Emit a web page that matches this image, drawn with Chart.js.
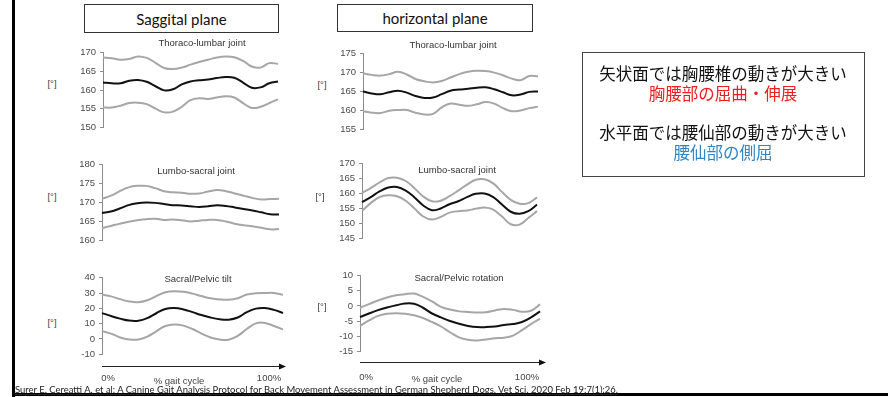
<!DOCTYPE html>
<html>
<head>
<meta charset="utf-8">
<script src="https://cdn.jsdelivr.net/npm/chart.js@4.4.1/dist/chart.umd.min.js"></script>
<style>
	body { margin:0; width:888px; height:397px; background:#fff; position:relative; overflow:hidden; font-family:'Liberation Sans', Arial, sans-serif; }
	.t { position:absolute; white-space:nowrap; transform:translate(-50%,-50%); line-height:1; }
	.lbl { font-size:9.5px; color:#444; }
	.plane { position:absolute; border:1px solid #333; box-sizing:border-box; font-family:Lato, sans-serif; font-size:15px; color:#111; display:flex; align-items:center; justify-content:center; }
	.note { position:absolute; left:582px; top:52px; width:283px; height:125px; border:1px solid #444; box-sizing:border-box; }
	.jp { font-family:'Noto Sans CJK JP', sans-serif; font-size:16.5px; color:#111; }
	canvas { position:absolute; }
</style>
</head>
<body>
<script>
// x = % gait cycle
const gait = [0,5,10,15,20,25,30,35,40,45,50,55,60,65,70,75,80,85,90,95,100]

// saggital plane, thoraco-lumbar joint
const sagTLUpper = [168.7,168.5,168.1,168.3,169.0,168.6,167.3,165.9,165.6,166.0,166.8,167.5,168.1,168.7,169.0,168.8,167.8,166.3,166.0,167.2,167.0]
const sagTLMean  = [162.0,161.8,161.8,162.5,162.7,162.2,161.0,159.9,160.2,161.5,162.3,162.6,162.8,163.2,163.5,163.3,162.0,160.6,160.7,161.8,162.3]
const sagTLLower = [155.3,155.3,155.8,156.5,156.6,156.2,155.0,154.0,154.2,155.5,157.3,157.8,157.6,158.0,158.3,158.0,156.5,155.2,155.5,156.5,157.5]

// horizontal plane, thoraco-lumbar joint
const horTLUpper = [169.8,169.4,169.2,169.6,170.2,169.5,168.3,167.7,167.4,167.8,168.7,169.6,170.2,170.5,170.4,170.0,169.3,168.4,168.0,169.1,169.0]
const horTLMean  = [165.0,164.5,164.3,164.8,165.2,164.7,163.8,163.3,163.4,164.3,165.2,165.5,165.7,166.0,166.1,165.6,164.8,164.0,164.2,164.9,165.0]
const horTLLower = [159.8,159.4,159.3,159.9,160.1,160.1,159.4,158.9,159.1,160.8,161.8,161.5,161.2,161.6,162.2,161.8,160.6,159.8,160.0,160.6,161.0]

// saggital plane, lumbo-sacral joint
const sagLSUpper = [171.0,171.8,173.0,174.0,174.4,174.4,173.8,173.0,172.7,172.6,172.3,172.4,172.9,173.3,173.0,172.4,171.8,171.2,170.8,170.9,171.0]
const sagLSMean  = [167.2,167.6,168.4,169.3,169.8,170.0,169.9,169.6,169.3,169.2,169.0,168.8,169.0,169.3,169.1,168.7,168.3,167.9,167.4,166.9,166.8]
const sagLSLower = [163.2,163.8,164.4,164.9,165.3,165.6,165.7,165.4,165.5,165.3,165.0,165.2,165.4,165.4,165.0,164.4,164.0,163.7,163.3,162.9,163.0]

// horizontal plane, lumbo-sacral joint
const horLSUpper = [160.2,161.8,163.7,165.2,165.3,164.2,161.8,159.0,157.4,157.6,159.1,161.0,163.0,164.6,164.8,163.4,160.5,157.9,156.6,156.8,158.7]
const horLSMean  = [157.1,158.8,160.7,162.0,162.2,161.0,158.7,156.0,154.4,155.0,156.4,157.4,158.8,159.9,160.0,158.8,156.3,153.9,153.2,154.1,156.3]
const horLSLower = [154.2,156.8,158.8,159.4,159.1,157.6,155.0,152.3,151.3,152.2,153.6,154.1,154.3,154.9,155.3,154.6,152.3,149.7,149.6,151.8,154.1]

// saggital plane, sacral/pelvic tilt
const tiltUpper = [29.0,27.8,26.0,24.5,24.0,25.3,28.0,30.5,31.2,30.8,29.6,28.0,26.6,25.8,25.6,26.6,29.0,29.8,30.0,30.0,28.8]
const tiltMean  = [16.9,15.0,13.3,12.0,11.9,13.6,16.8,19.6,20.2,19.3,17.5,15.6,14.0,12.9,12.6,14.0,17.5,19.8,20.2,19.0,17.0]
const tiltLower = [5.2,3.5,1.0,-0.3,-0.4,1.5,5.0,8.5,9.5,8.7,6.5,3.5,1.0,-0.4,-0.5,2.0,6.5,10.2,10.5,8.5,6.2]

// horizontal plane, sacral/pelvic rotation
const rotUpper = [-0.6,0.6,1.8,2.8,3.5,3.9,4.1,3.0,1.5,-0.3,-1.2,-1.8,-2.0,-2.2,-2.1,-1.5,-1.0,-1.3,-1.9,-1.6,0.5]
const rotMean  = [-3.7,-2.5,-1.4,-0.5,0.2,0.8,0.7,-0.6,-2.5,-3.8,-5.0,-5.9,-6.6,-7.0,-7.0,-6.8,-6.3,-6.0,-5.3,-3.8,-1.8]
const rotLower = [-6.6,-4.8,-3.3,-2.6,-2.4,-2.6,-3.1,-4.0,-5.3,-6.8,-8.7,-10.4,-11.2,-11.4,-11.1,-10.7,-10.5,-9.8,-8.0,-6.0,-4.2]

const el = o => {
	const a = document.createElement(o.a)
	if (o.c) a.textContent = o.c
	if (o.d) for (const k in o.d) a.setAttribute(k, o.d[k])
	;(o.b || document.body).appendChild(a)
	return a
}

// text centred on (x, y)
const txt = (x, y, s, cls, style) => el({a:'div', c:s, d:{class:'t ' + cls, style:`left:${x}px; top:${y}px;` + (style || '')}})

// one small panel; area = [left, top, right, bottom] of the plot area
const panel = (area, yMin, yMax, step, upper, mean, lower) => {
	const axisW = 30, padT = 8, padB = 8, padR = 4
	const c = el({a:'canvas', d:{style:`left:${area[0] - axisW}px; top:${area[1] - padT}px;`}})
	c.width = area[2] - area[0] + axisW + padR
	c.height = area[3] - area[1] + padT + padB

	const line = (data, color) => ({data, borderColor:color, borderWidth:2, pointRadius:0, tension:0.4, fill:false})

	new Chart(c, {
		type: 'line',
		data: {
			labels: gait,
			datasets: [line(mean, '#111'), line(upper, '#a6a6a6'), line(lower, '#a6a6a6')]
		},
		options: {
			responsive: false,
			animation: false,
			layout: { padding: {top:padT, bottom:padB, left:0, right:padR} },
			plugins: { legend: {display:false}, tooltip: {enabled:false} },
			scales: {
				x: { display:false },
				y: {
					min: yMin, max: yMax,
					afterFit: s => { s.width = axisW },
					border: { display:true, color:'#8c8c8c', width:1 },
					grid: { drawOnChartArea:false, drawTicks:true, tickLength:3, color:'#8c8c8c' },
					ticks: { stepSize:step, padding:4, color:'#4a4a4a', font:{family:'Liberation Sans', size:9.5} }
				}
			}
		}
	})
}

// frame lines
el({a:'div', d:{style:'position:absolute; left:12px; top:0; width:3px; height:397px; background:#000;'}})
el({a:'div', d:{style:'position:absolute; left:12px; top:393px; width:876px; height:3px; background:#000;'}})

// plane headers
el({a:'div', c:'Saggital plane', d:{class:'plane', style:'left:84px; top:4px; width:195px; height:29px;'}})
el({a:'div', c:'horizontal plane', d:{class:'plane', style:'left:337px; top:4px; width:196px; height:28px;'}})

panel([103, 51, 278, 129], 150, 170, 5, sagTLUpper, sagTLMean, sagTLLower)
panel([363, 52, 538, 131], 155, 175, 5, horTLUpper, horTLMean, horTLLower)
panel([102, 163, 279, 242], 160, 180, 5, sagLSUpper, sagLSMean, sagLSLower)
panel([362, 162, 537, 240], 145, 170, 5, horLSUpper, horLSMean, horLSLower)
panel([102, 276, 283, 356], -10, 40, 10, tiltUpper, tiltMean, tiltLower)
panel([360, 274, 540, 353], -15, 10, 5, rotUpper, rotMean, rotLower)

// panel titles
txt(202, 43, 'Thoraco-lumbar joint', 'lbl', 'color:#333;')
txt(453, 45, 'Thoraco-lumbar joint', 'lbl', 'color:#333;')
txt(196, 171, 'Lumbo-sacral joint', 'lbl', 'color:#333;')
txt(457, 170, 'Lumbo-sacral joint', 'lbl', 'color:#333;')
txt(198, 279, 'Sacral/Pelvic tilt', 'lbl', 'color:#333;')
txt(459, 278, 'Sacral/Pelvic rotation', 'lbl', 'color:#333;')

// unit labels
;[[52, 84], [52, 197], [52, 323], [322, 85], [320, 197], [322, 307]].forEach(p => txt(p[0], p[1], '[°]', 'lbl'))

// gait cycle arrows
const svg = document.createElementNS('http://www.w3.org/2000/svg', 'svg')
svg.setAttribute('width', 888); svg.setAttribute('height', 397)
svg.setAttribute('style', 'position:absolute; left:0; top:0;')
svg.innerHTML = `
	<line x1="102" y1="366.5" x2="280" y2="366.5" stroke="#222" stroke-width="1"/>
	<polygon points="286,366.5 279,363.5 279,369.5" fill="#111"/>
	<line x1="360" y1="362.5" x2="540" y2="362.5" stroke="#222" stroke-width="1"/>
	<polygon points="546,362.5 539,359.5 539,365.5" fill="#111"/>`
document.body.appendChild(svg)

txt(108, 378, '0%', 'lbl')
txt(179, 381, '% gait cycle', 'lbl')
txt(269, 378, '100%', 'lbl')
txt(366, 377, '0%', 'lbl')
txt(437, 379, '% gait cycle', 'lbl')
txt(527, 377, '100%', 'lbl')

// note box
el({a:'div', d:{class:'note'}})
txt(723, 73, '矢状面では胸腰椎の動きが大きい', 'jp')
txt(723, 93, '胸腰部の屈曲・伸展', 'jp', 'color:#f01e1e;')
txt(723, 132, '水平面では腰仙部の動きが大きい', 'jp')
txt(723, 152, '腰仙部の側屈', 'jp', 'color:#2e86c8;')

// citation, squeezed to the width it has in the slide
const cite = el({a:'div', c:'Surer E, Cereatti A, et al: A Canine Gait Analysis Protocol for Back Movement Assessment in German Shepherd Dogs. Vet Sci. 2020 Feb 19;7(1):26.',
	d:{style:'position:absolute; left:15px; top:384px; font-family:Lato, sans-serif; font-size:10px; line-height:1; color:#222; text-decoration:underline; white-space:nowrap; transform-origin:0 0;'}})
cite.style.transform = `scaleX(${603 / cite.getBoundingClientRect().width})`
</script>
</body>
</html>
